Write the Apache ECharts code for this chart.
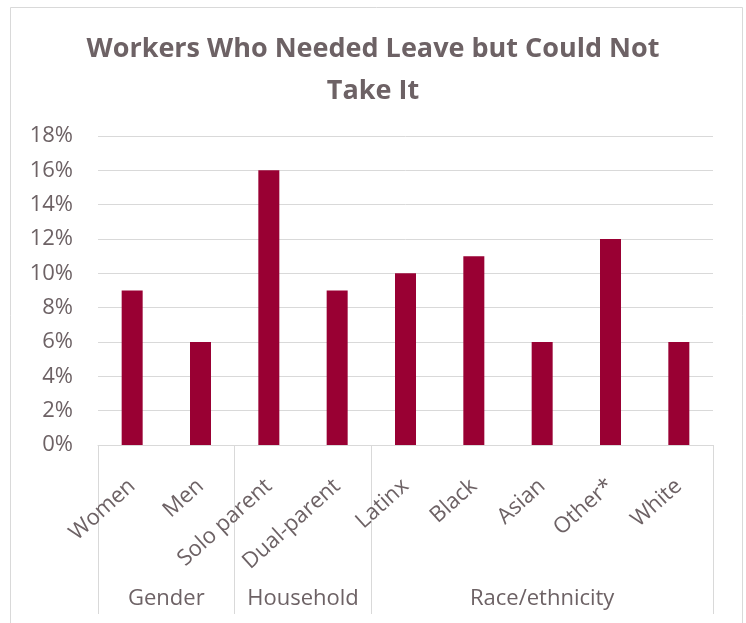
<!DOCTYPE html>
<html>
<head>
<meta charset="utf-8">
<script src="https://cdn.jsdelivr.net/npm/echarts@6/dist/echarts.min.js"></script>
<style>
  html, body { margin: 0; padding: 0; background: #fff; }
  #chart { width: 746px; height: 623px; }
</style>
</head>
<body>
<div id="chart"></div>
<script>
// data
var categories = ['Women', 'Men', 'Solo parent', 'Dual-parent', 'Latinx', 'Black', 'Asian', 'Other*', 'White'];
var values = [0.09, 0.06, 0.16, 0.09, 0.10, 0.11, 0.06, 0.12, 0.06];
var groups = ['Gender', 'Household', 'Race/ethnicity'];
var groupSizes = [2, 2, 5];

var TEXT = '#6d6265';
var GRIDC = '#d9d9d9';
var FONT = '"Open Sans", "Noto Sans", sans-serif';

// group boundaries and centres in category units
var bounds = [0];
var centres = [];
groupSizes.forEach(function (n, i) {
    var start = bounds[bounds.length - 1];
    centres.push(start + n / 2);
    bounds.push(start + n);
});

var chart = echarts.init(document.getElementById('chart'));
var option = {
    backgroundColor: '#fff',
    animation: false,
    title: {
        text: 'Workers Who Needed Leave but Could Not\nTake It',
        left: 'center',
        top: 23,
        textStyle: {
            color: TEXT,
            fontFamily: FONT,
            fontWeight: 'bold',
            fontSize: 27,
            lineHeight: 42
        }
    },
    graphic: [{
        type: 'rect',
        shape: {x: 10.5, y: 7.5, width: 732, height: 640},
        style: {fill: 'none', stroke: GRIDC, lineWidth: 1},
        silent: true
    }],
    grid: {left: 98, right: 33, top: 136, bottom: 178},
    xAxis: [{
        type: 'category',
        data: categories,
        axisLine: {lineStyle: {color: GRIDC, width: 1}},
        axisTick: {show: false},
        axisLabel: {
            interval: 0,
            rotate: 42,
            margin: 38,
            color: TEXT,
            fontFamily: FONT,
            fontSize: 22
        }
    }, {
        type: 'value',
        min: 0,
        max: categories.length,
        position: 'bottom',
        offset: 169,
        axisLine: {show: false},
        splitLine: {show: false},
        axisTick: {
            show: true,
            inside: true,
            length: 169,
            customValues: bounds,
            lineStyle: {color: GRIDC, width: 1}
        },
        axisLabel: {
            inside: true,
            margin: 4,
            customValues: centres,
            color: TEXT,
            fontFamily: FONT,
            fontSize: 22,
            formatter: function (v) {
                var i = centres.indexOf(v);
                return i >= 0 ? groups[i] : '';
            }
        }
    }],
    yAxis: {
        type: 'value',
        min: 0,
        max: 0.18,
        interval: 0.02,
        axisLine: {show: false},
        axisTick: {show: false},
        splitLine: {lineStyle: {color: GRIDC, width: 1}},
        axisLabel: {
            margin: 25,
            color: TEXT,
            fontFamily: FONT,
            fontSize: 22,
            formatter: function (v) { return Math.round(v * 100) + '%'; }
        }
    },
    series: [{
        type: 'bar',
        data: values,
        barWidth: 21,
        itemStyle: {color: '#990033'}
    }]
};
chart.setOption(option);
</script>
</body>
</html>
